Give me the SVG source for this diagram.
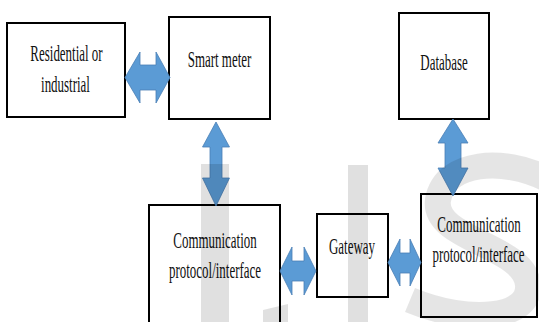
<svg xmlns="http://www.w3.org/2000/svg" width="539" height="322" viewBox="0 0 539 322">
<style>
.box{fill:#fff;stroke:#000;stroke-width:2}
.lbl{font-family:"Liberation Serif","Times New Roman",serif;font-size:24px;fill:#111;text-anchor:middle}
.arr{fill:#5B9BD5;stroke:#4A7FB5;stroke-width:0.8;stroke-linejoin:miter}
.wm{fill:#000;fill-opacity:0.12}
.wms{fill:none;stroke:#000;stroke-opacity:0.1;stroke-width:26}
</style>
<rect width="539" height="322" fill="#fff"/>
<g id="residential">
<rect class="box" x="7" y="23" width="118" height="94"/>
<text class="lbl" transform="translate(66.5,61) scale(0.54,1)">Residential or</text>
<text class="lbl" transform="translate(65.5,92) scale(0.54,1)">industrial</text>
</g>
<g id="smartmeter">
<rect class="box" x="169" y="17" width="101" height="102"/>
<text class="lbl" transform="translate(219.5,67) scale(0.54,1)">Smart meter</text>
</g>
<g id="database">
<rect class="box" x="399" y="13" width="90" height="106"/>
<text class="lbl" transform="translate(444,70) scale(0.54,1)">Database</text>
</g>
<g id="comm-left">
<rect class="box" x="149" y="205" width="131" height="130"/>
<text class="lbl" transform="translate(215,248) scale(0.54,1)">Communication</text>
<text class="lbl" transform="translate(215,278) scale(0.54,1)">protocol/interface</text>
</g>
<g id="gateway">
<rect class="box" x="317" y="214" width="71" height="83"/>
<text class="lbl" transform="translate(352,254) scale(0.54,1)">Gateway</text>
</g>
<g id="comm-right">
<rect class="box" x="421" y="194" width="116" height="123"/>
<text class="lbl" transform="translate(479,232) scale(0.54,1)">Communication</text>
<text class="lbl" transform="translate(478.5,262) scale(0.54,1)">protocol/interface</text>
</g>
<g id="connectors">
<polygon class="arr" points="125,77.5 140,52 140,65 156,65 156,52 170,77.5 156,103 156,90 140,90 140,103"/>
<polygon class="arr" points="216,122 229.5,147 222,147 222,178 229.5,178 216,206 202.5,178 210,178 210,147 202.5,147"/>
<polygon class="arr" points="453,119 468,143 461,143 461,168 468,168 453,196 438,168 445,168 445,143 438,143"/>
<polygon class="arr" points="280,271 292,247 292,261 304,261 304,247 316,271 304,295 304,281 292,281 292,295"/>
<polygon class="arr" points="388,262.5 400,239 400,253 410,253 410,239 421,262.5 410,286 410,273 400,273 400,286"/>
</g>
<g id="watermark">
<rect class="wm" x="201" y="164" width="28" height="158"/>
<rect class="wm" x="348" y="165" width="20" height="157"/>
<polygon class="wm" points="263,310 288,304 288,322 263,322"/>
<path class="wms" d="M 545 178 C 505 158, 445 160, 438 200 C 432 240, 525 245, 528 285 C 531 318, 470 325, 410 300"/>
</g>
</svg>
